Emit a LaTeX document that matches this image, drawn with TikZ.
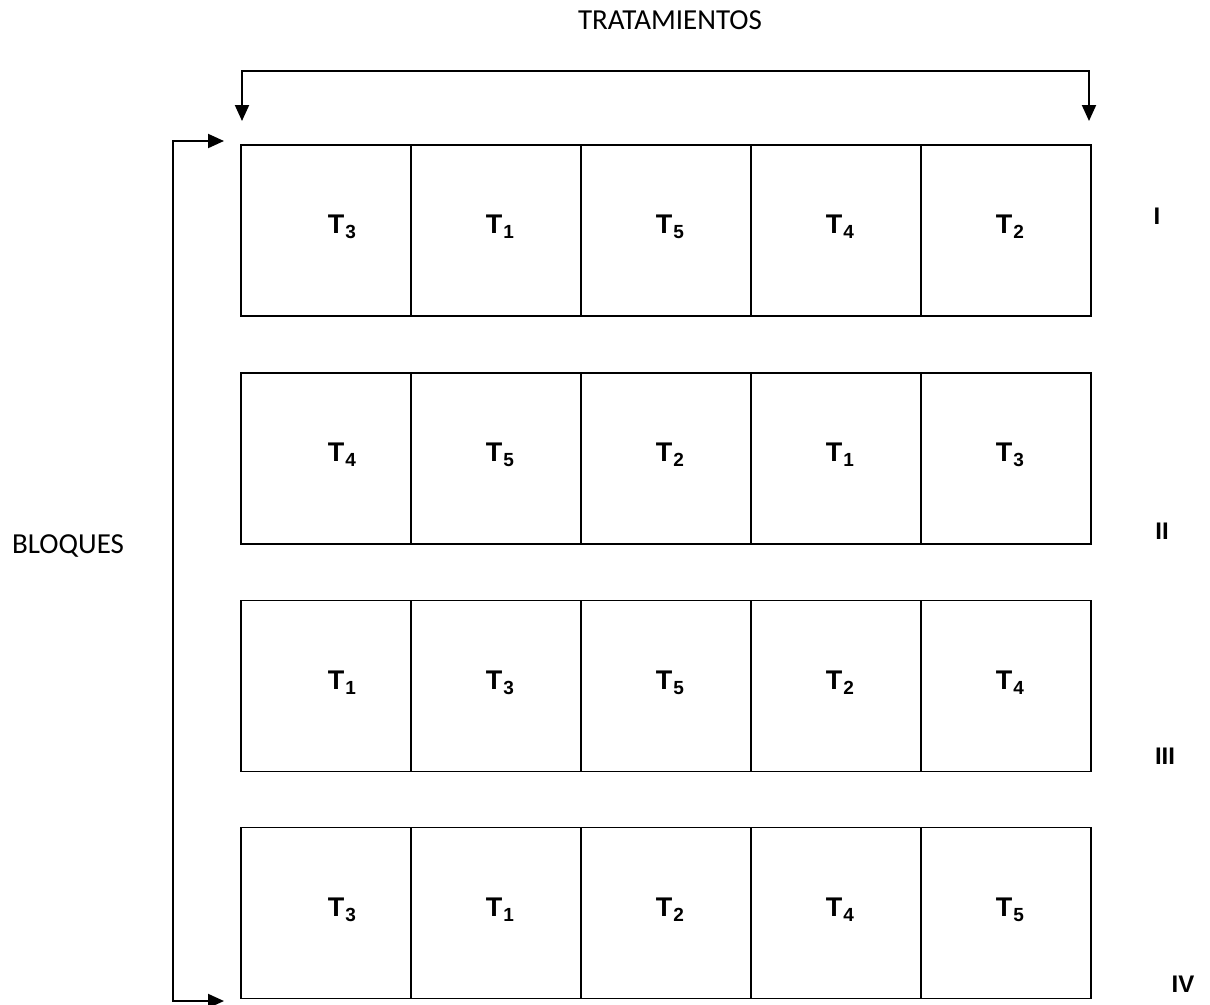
\documentclass[tikz,border=0pt]{standalone}
\usepackage{fontspec}
\setmainfont{Liberation Sans}
\newfontfamily\calib{Carlito}
\usetikzlibrary{arrows.meta}
\newcommand{\trt}[1]{T\kern1pt{\fontsize{19}{19}\selectfont\raisebox{-5pt}{#1}}}
\begin{document}
\begin{tikzpicture}[x=1pt,y=-1pt,
  cell/.style={draw,line width=1.6pt,minimum width=170pt,minimum height=171pt,inner sep=0pt,outer sep=0pt},
  tlab/.style={anchor=base,inner sep=0pt,font=\fontsize{27}{29}\selectfont\bfseries},
  arr/.style={line width=2pt,-{Triangle[length=16pt,width=14pt]}},
  lbl/.style={font=\calib\fontsize{29}{31}\selectfont},
  rom/.style={font=\fontsize{24}{26}\selectfont\bfseries}]
\useasboundingbox (0,0) rectangle (1210,1004);
\node[lbl] (trat) at (670,20) {TRATAMIENTOS};
\node[lbl] (bloq) at (68,546) {BLOQUES};
% rows
\foreach \r/\yc/\labs in {1/230.5/{3,1,5,4,2},2/458.5/{4,5,2,1,3},3/686/{1,3,5,2,4},4/913/{3,1,2,4,5}}{
  \foreach \t [count=\c] in \labs {
    \node[cell] (c\r\c) at ({241+85+170*(\c-1)},\yc) {};
  }
  \foreach \t [count=\c] in \labs {
    \pgfmathsetmacro\xoff{\c==1 ? 16 : 4}
    \node[tlab] (t\r\c) at ({241+85+170*(\c-1)+\xoff},\yc+3) {\trt{\t}};
  }
}
\node[rom] (r1) at (1157,216) {I};
\node[rom] (r2) at (1162,531) {II};
\node[rom] (r3) at (1165,756) {III};
\node[rom] (r4) at (1183,984) {IV};
% tratamientos bracket
\coordinate (tl) at (242,71);
\coordinate (tr) at (1089,71);
\draw[arr] (tl) -- (tr) -- (1089,121);
\draw[arr] (tr) -- (tl) -- (242,121);
% bloques bracket
\coordinate (bt) at (173,141);
\coordinate (bb) at (173,1001);
\draw[arr] (bb) -- (bt) -- (224,141);
\draw[arr] (bt) -- (bb) -- (224,1001);
\end{tikzpicture}
\end{document}
